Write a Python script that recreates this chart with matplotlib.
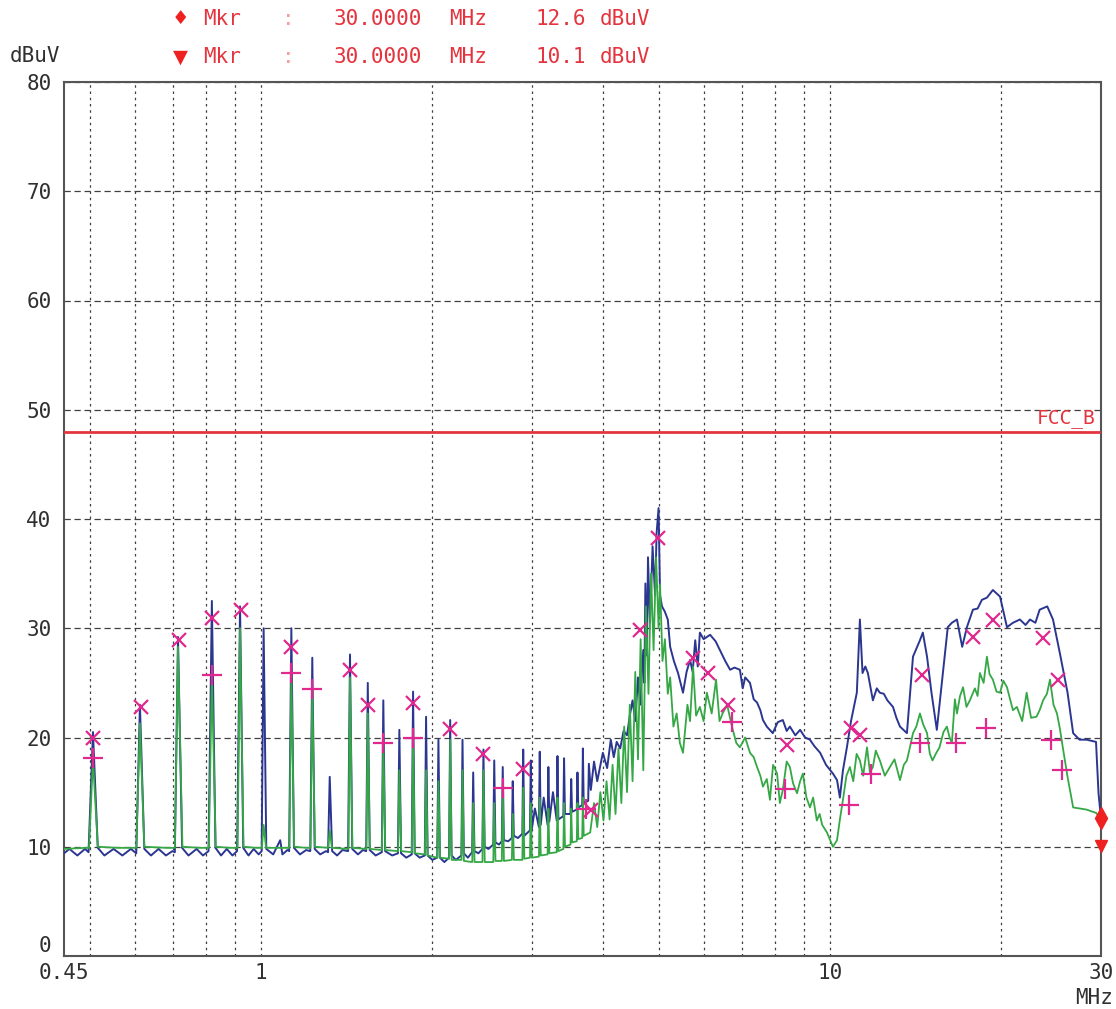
import numpy as np
import matplotlib
matplotlib.use("Agg")
import matplotlib.pyplot as plt
import matplotlib.transforms as mtransforms
from matplotlib.ticker import FixedLocator, NullFormatter

# Peak detector trace (blue), (MHz, dBuV)
blue_pts = [
    (0.45, 9.4), (0.46, 9.8), (0.475, 9.2), (0.49, 9.8), (0.497, 9.5), (0.506, 20.5), (0.516, 9.9),
    (0.53, 9.2), (0.55, 9.8), (0.57, 9.2), (0.59, 9.8), (0.603, 9.4), (0.612, 23.0), (0.623, 9.8),
    (0.64, 9.2), (0.66, 9.8), (0.68, 9.2), (0.698, 9.6), (0.705, 9.5), (0.714, 29.2), (0.726, 9.9),
    (0.745, 9.2), (0.77, 9.8), (0.79, 9.2), (0.808, 9.6), (0.819, 32.5), (0.831, 9.9), (0.85, 9.2),
    (0.87, 9.8), (0.89, 9.2), (0.907, 9.6), (0.918, 32.0), (0.93, 9.9), (0.95, 9.2), (0.97, 9.8),
    (0.99, 9.3), (1.002, 9.6), (1.01, 30.0), (1.021, 9.8), (1.05, 9.3), (1.08, 10.6), (1.09, 9.3),
    (1.112, 9.7), (1.12, 9.6), (1.13, 30.0), (1.142, 9.9), (1.17, 9.3), (1.2, 9.7), (1.22, 9.6),
    (1.23, 27.3), (1.242, 9.8), (1.27, 9.3), (1.3, 9.6), (1.311, 9.5), (1.32, 16.4), (1.333, 9.6),
    (1.36, 9.2), (1.39, 9.7), (1.422, 9.6), (1.433, 27.6), (1.446, 9.8), (1.48, 9.3), (1.51, 9.7),
    (1.53, 9.6), (1.54, 25.0), (1.552, 9.7), (1.59, 9.2), (1.63, 9.5), (1.64, 23.4), (1.652, 9.6),
    (1.7, 9.2), (1.74, 9.4), (1.75, 20.7), (1.762, 9.4), (1.8, 9.0), (1.84, 9.3), (1.85, 24.2),
    (1.862, 9.4), (1.9, 9.0), (1.94, 9.2), (1.95, 21.9), (1.962, 9.2), (2.0, 8.8), (2.04, 9.0),
    (2.05, 19.8), (2.062, 9.0), (2.1, 8.6), (2.14, 9.0), (2.15, 21.6), (2.162, 9.2), (2.2, 8.8),
    (2.25, 9.2), (2.26, 19.8), (2.272, 9.4), (2.31, 9.0), (2.35, 9.5), (2.36, 16.8), (2.372, 9.6),
    (2.41, 9.4), (2.45, 9.8), (2.46, 18.9), (2.472, 10.0), (2.51, 9.8), (2.56, 10.2), (2.57, 17.9),
    (2.582, 10.4), (2.62, 10.2), (2.65, 10.5), (2.66, 17.3), (2.672, 10.6), (2.72, 10.5), (2.76, 10.8),
    (2.77, 16.0), (2.782, 11.0), (2.83, 10.8), (2.88, 11.2), (2.89, 18.9), (2.902, 11.0), (2.97, 11.5),
    (2.98, 17.9), (2.992, 11.6), (3.03, 13.5), (3.08, 11.8), (3.09, 18.7), (3.102, 12.0), (3.14, 14.5),
    (3.19, 12.0), (3.2, 17.3), (3.212, 12.3), (3.26, 15.0), (3.31, 12.4), (3.32, 18.3), (3.332, 12.5),
    (3.4, 12.8), (3.41, 18.1), (3.422, 13.0), (3.5, 13.0), (3.51, 16.2), (3.522, 13.2), (3.59, 13.4),
    (3.6, 16.8), (3.612, 13.6), (3.67, 13.8), (3.68, 19.0), (3.692, 14.0), (3.76, 14.2), (3.77, 17.6),
    (3.8, 15.2), (3.85, 17.8), (3.9, 16.0), (3.99, 18.6), (4.06, 17.2), (4.12, 19.8), (4.17, 18.2),
    (4.22, 19.6), (4.28, 19.0), (4.34, 20.6), (4.4, 20.2), (4.45, 22.0), (4.5, 23.4), (4.55, 21.5),
    (4.6, 25.5), (4.64, 23.0), (4.7, 28.0), (4.72, 25.0), (4.74, 34.1), (4.77, 27.5), (4.79, 36.5),
    (4.83, 30.5), (4.88, 37.5), (4.93, 33.0), (4.96, 38.7), (5.0, 41.0), (5.03, 33.0), (5.07, 32.0),
    (5.13, 31.5), (5.19, 30.8), (5.24, 28.3), (5.32, 27.0), (5.41, 25.9), (5.52, 24.1), (5.6, 26.0),
    (5.68, 27.1), (5.74, 26.0), (5.8, 28.9), (5.86, 26.5), (5.91, 29.6), (6.0, 29.0), (6.16, 29.4),
    (6.3, 28.8), (6.41, 28.0), (6.55, 27.0), (6.68, 26.2), (6.8, 26.4), (6.95, 26.2), (7.03, 24.5),
    (7.1, 25.5), (7.24, 25.0), (7.35, 23.5), (7.45, 23.2), (7.55, 22.5), (7.63, 21.6), (7.75, 21.0),
    (7.94, 20.4), (8.1, 21.4), (8.27, 21.6), (8.4, 20.6), (8.51, 21.0), (8.7, 20.2), (8.87, 20.7),
    (9.05, 20.0), (9.23, 19.8), (9.4, 19.2), (9.62, 18.6), (9.85, 17.5), (10.13, 16.7), (10.3, 16.1),
    (10.42, 14.5), (10.55, 17.0), (10.72, 19.1), (10.9, 21.5), (11.16, 24.1), (11.3, 30.8),
    (11.42, 25.9), (11.55, 26.5), (11.67, 25.9), (11.91, 23.4), (12.1, 24.5), (12.25, 24.1),
    (12.45, 24.0), (12.63, 23.4), (12.92, 22.8), (13.1, 21.8), (13.29, 21.0), (13.67, 20.4),
    (14.01, 27.4), (14.41, 28.9), (14.58, 29.6), (14.83, 27.4), (15.1, 24.1), (15.43, 20.7),
    (15.78, 25.5), (16.13, 30.1), (16.4, 30.5), (16.74, 30.8), (17.1, 28.3), (17.43, 30.1),
    (17.86, 31.7), (18.2, 31.8), (18.52, 32.6), (18.9, 32.8), (19.36, 33.5), (19.93, 32.9),
    (20.5, 30.1), (21.0, 30.5), (21.6, 30.8), (22.1, 30.3), (22.5, 30.8), (23.0, 30.5), (23.4, 31.7),
    (24.13, 32.0), (24.7, 30.8), (25.4, 27.7), (26.2, 24.1), (26.8, 20.4), (27.5, 19.8), (28.3, 19.8),
    (29.4, 19.6), (29.7, 14.9), (30.0, 12.6),
]

# Average detector trace (green)
green_pts = [
    (0.45, 9.8), (0.49, 9.9), (0.498, 9.9), (0.506, 18.0), (0.516, 10.0), (0.56, 9.9), (0.603, 9.9),
    (0.612, 21.3), (0.623, 10.0), (0.68, 9.9), (0.705, 9.9), (0.714, 28.3), (0.727, 10.0), (0.78, 9.9),
    (0.809, 9.9), (0.819, 25.7), (0.832, 10.0), (0.88, 9.9), (0.909, 9.9), (0.918, 30.0), (0.931, 10.0),
    (0.98, 9.9), (1.003, 9.9), (1.01, 12.0), (1.02, 9.9), (1.1, 9.9), (1.121, 9.9), (1.13, 25.7),
    (1.143, 10.0), (1.2, 9.9), (1.221, 9.9), (1.23, 24.4), (1.243, 10.0), (1.312, 9.9), (1.32, 11.5),
    (1.332, 9.9), (1.424, 9.8), (1.433, 25.5), (1.447, 9.9), (1.531, 9.8), (1.54, 22.2), (1.553, 9.8),
    (1.631, 9.7), (1.64, 19.5), (1.653, 9.7), (1.741, 9.6), (1.75, 17.0), (1.763, 9.6), (1.841, 9.5),
    (1.85, 20.0), (1.863, 9.4), (1.941, 9.3), (1.95, 17.0), (1.963, 9.2), (2.041, 9.0), (2.05, 16.0),
    (2.063, 9.0), (2.141, 8.9), (2.15, 19.8), (2.163, 8.8), (2.251, 8.8), (2.26, 17.0), (2.273, 8.7),
    (2.351, 8.6), (2.36, 14.0), (2.373, 8.6), (2.45, 8.6), (2.46, 17.0), (2.473, 8.6), (2.56, 8.6),
    (2.57, 14.0), (2.583, 8.7), (2.65, 8.7), (2.66, 15.4), (2.673, 8.7), (2.76, 8.8), (2.77, 13.0),
    (2.783, 8.8), (2.88, 8.8), (2.89, 15.4), (2.903, 8.9), (2.97, 9.0), (2.98, 14.0), (2.993, 9.0),
    (3.08, 9.1), (3.09, 14.5), (3.103, 9.2), (3.19, 9.3), (3.2, 13.5), (3.213, 9.4), (3.31, 9.5),
    (3.32, 14.5), (3.333, 9.6), (3.4, 9.8), (3.41, 14.0), (3.423, 10.0), (3.5, 10.2), (3.51, 13.5),
    (3.523, 10.4), (3.59, 10.5), (3.6, 14.0), (3.613, 10.7), (3.67, 10.8), (3.68, 14.5), (3.693, 11.0),
    (3.79, 11.3), (3.85, 14.0), (3.9, 11.8), (3.95, 15.0), (4.0, 12.4), (4.05, 16.0), (4.1, 12.5),
    (4.15, 17.5), (4.2, 13.0), (4.25, 19.0), (4.3, 14.0), (4.35, 21.0), (4.4, 15.0), (4.45, 23.0),
    (4.5, 16.0), (4.55, 26.0), (4.6, 18.0), (4.65, 29.0), (4.7, 17.0), (4.75, 32.0), (4.8, 24.0),
    (4.85, 35.0), (4.9, 28.0), (4.95, 36.5), (5.0, 30.0), (5.03, 34.0), (5.08, 27.0), (5.13, 29.0),
    (5.19, 24.0), (5.24, 25.5), (5.31, 21.0), (5.38, 22.2), (5.45, 19.5), (5.52, 18.6), (5.62, 23.0),
    (5.68, 21.5), (5.75, 26.5), (5.82, 22.0), (5.91, 22.8), (6.0, 21.5), (6.08, 24.1), (6.2, 22.2),
    (6.31, 25.3), (6.4, 21.5), (6.48, 22.2), (6.6, 23.0), (6.73, 21.0), (6.85, 19.5), (6.95, 19.1),
    (7.1, 20.0), (7.24, 18.6), (7.35, 18.2), (7.45, 17.3), (7.55, 16.5), (7.63, 15.5), (7.75, 16.2),
    (7.85, 14.3), (7.95, 17.5), (8.08, 16.7), (8.17, 14.0), (8.27, 15.2), (8.4, 17.8), (8.51, 17.3),
    (8.62, 15.8), (8.76, 14.9), (8.87, 16.0), (8.97, 16.7), (9.1, 14.5), (9.23, 13.6), (9.35, 14.5),
    (9.49, 12.4), (9.6, 13.0), (9.7, 12.0), (9.89, 11.3), (10.13, 10.0), (10.3, 10.6), (10.42, 12.5),
    (10.55, 14.3), (10.7, 16.5), (10.85, 17.3), (11.0, 16.0), (11.15, 18.5), (11.3, 17.9),
    (11.45, 16.5), (11.63, 19.1), (11.77, 16.8), (11.91, 17.3), (12.05, 18.8), (12.25, 17.9),
    (12.5, 16.5), (12.76, 17.3), (13.0, 18.0), (13.15, 17.0), (13.29, 16.1), (13.5, 17.5),
    (13.67, 17.9), (13.85, 19.2), (14.01, 20.4), (14.2, 21.0), (14.41, 22.2), (14.6, 21.2),
    (14.83, 20.4), (15.0, 18.5), (15.16, 17.9), (15.4, 18.6), (15.6, 19.1), (15.85, 20.5),
    (16.07, 21.0), (16.25, 20.0), (16.4, 19.5), (16.6, 23.5), (16.74, 22.2), (16.95, 23.8),
    (17.16, 24.6), (17.4, 22.8), (17.64, 23.4), (18.0, 24.5), (18.2, 23.8), (18.37, 25.9),
    (18.65, 25.0), (18.9, 27.4), (19.1, 25.8), (19.36, 25.3), (19.65, 24.2), (19.93, 24.1),
    (20.2, 25.2), (20.5, 24.6), (21.0, 22.5), (21.34, 22.8), (21.8, 21.5), (22.2, 24.1), (22.6, 21.8),
    (23.1, 21.9), (23.4, 22.5), (23.73, 23.4), (24.1, 24.0), (24.4, 25.3), (24.75, 23.0), (25.1, 22.2),
    (25.4, 20.8), (25.7, 19.1), (26.2, 16.4), (26.8, 13.6), (28.3, 13.4), (29.4, 13.1), (30.0, 12.6),
]

# final measurement points: quasi-peak (x) and average (+)
qp_pts = [
    (0.506, 20.0), (0.614, 22.8), (0.716, 28.9), (0.819, 30.9), (0.920, 31.7), (1.13, 28.3),
    (1.433, 26.2), (1.54, 23.0), (1.85, 23.2), (2.15, 20.8), (2.46, 18.5), (2.89, 17.1), (3.80, 13.4),
    (4.64, 29.8), (4.98, 38.3), (5.74, 27.3), (6.10, 25.9), (6.62, 23.0), (8.40, 19.3), (10.9, 20.9),
    (11.3, 20.2), (14.55, 25.7), (17.86, 29.2), (19.4, 30.8), (23.7, 29.1), (25.2, 25.3),
]
av_pts = [
    (0.506, 18.1), (0.819, 25.7), (1.13, 25.9), (1.23, 24.4), (1.64, 19.5), (1.85, 20.0),
    (2.66, 15.4), (3.72, 13.5), (6.74, 21.4), (8.35, 15.3), (10.8, 13.8), (11.8, 16.7),
    (14.4, 19.5), (16.7, 19.5), (18.8, 20.9), (24.5, 19.8), (25.6, 17.0),
]

limit_level = 48
limit_name = "FCC_B"
mkr_freq = [30.0, 30.0]
mkr_level = [12.6, 10.1]
mkr_symbol = ["\u2666", "\u25bc"]

x_ticks = [0.45, 1, 10, 30]
x_tick_labels = ["0.45", "1", "10", "30"]
grid_freqs = [0.5, 0.6, 0.7, 0.8, 0.9, 1, 2, 3, 4, 5, 6, 7, 8, 9, 10, 20]
y_ticks = list(range(0, 81, 10))

blue_c = "#2b3690"
green_c = "#35a845"
mark_c = "#e0288e"
red_c = "#e4343e"
text_c = "#303030"
mono = ["DejaVu Sans Mono", "DejaVu Sans"]

W, H = 1116, 1009
fig = plt.figure(figsize=(W / 100, H / 100), dpi=100)
ax = fig.add_axes([64 / W, 53 / H, 1037 / W, 874 / H])

bf, bl = np.array(blue_pts).T
gf, gl = np.array(green_pts).T
ax.plot(bf, bl, color=blue_c, lw=1.4, zorder=3)
ax.plot(gf, gl, color=green_c, lw=1.3, zorder=4)

ax.axhline(limit_level, color=red_c, lw=2, zorder=5)
ax.text(0.995, limit_level + 0.3, limit_name, color=red_c, fontsize=14, family=mono,
        ha="right", va="bottom",
        transform=mtransforms.blended_transform_factory(ax.transAxes, ax.transData))

qf, ql = np.array(qp_pts).T
af, al = np.array(av_pts).T
ax.plot(qf, ql, "x", color=mark_c, ms=10, mew=1.6, zorder=6)
ax.plot(af, al, "+", color=mark_c, ms=15, mew=1.6, zorder=6)

# markers at the end of the sweep
ax.plot(mkr_freq[0], mkr_level[0], "d", color="#ee2020", ms=11, clip_on=False, zorder=7)
ax.plot(mkr_freq[1], mkr_level[1], "v", color="#ee2020", ms=8, clip_on=False, zorder=7)

ax.set_xscale("log")
ax.set_xlim(0.45, 30)
ax.set_ylim(0, 80)
ax.set_xticks(x_ticks)
ax.set_xticklabels(x_tick_labels)
ax.xaxis.set_minor_locator(FixedLocator(grid_freqs))
ax.xaxis.set_minor_formatter(NullFormatter())
ax.xaxis.remove_overlapping_locs = False
ax.set_yticks(y_ticks)

ax.grid(True, which="minor", axis="x", ls=(0, (2, 3)), color="#404040", lw=0.9)
ax.grid(True, which="major", axis="y", ls=(0, (5, 3)), color="#404040", lw=0.9)
ax.set_axisbelow(True)

ax.tick_params(which="both", length=0)
ax.tick_params(axis="y", pad=9, labelsize=15, labelcolor=text_c)
ax.tick_params(axis="x", pad=5, labelsize=15, labelcolor=text_c)
for lab in ax.get_xticklabels() + ax.get_yticklabels():
    lab.set_family(mono)
ax.get_yticklabels()[0].set_va("bottom")
for sp in ax.spines.values():
    sp.set_color("#555555")
    sp.set_linewidth(1.5)

fig.text(10 / W, 1 - 56 / H, "dBuV", fontsize=15, family=mono, color=text_c, ha="left", va="center")
fig.text(1113 / W, 1 - 998 / H, "MHz", fontsize=15, family=mono, color=text_c, ha="right", va="center")

# header lines with marker readouts
for i, yy in enumerate([19, 57]):
    ty = 1 - yy / H
    fig.text(180 / W, ty, mkr_symbol[i], fontsize=14, family=["DejaVu Sans"], color="#ee2020",
             ha="center", va="center")
    fig.text(203 / W, ty, "Mkr", fontsize=15, family=mono, color=red_c, va="center")
    fig.text(282 / W, ty, ":", fontsize=15, family=mono, color="#f0a0a0", va="center")
    fig.text(334 / W, ty, f"{mkr_freq[i]:.4f}", fontsize=15, family=mono, color=red_c, va="center")
    fig.text(449 / W, ty, "MHz", fontsize=15, family=mono, color=red_c, va="center")
    fig.text(536 / W, ty, f"{mkr_level[i]:.1f}", fontsize=15, family=mono, color=red_c, va="center")
    fig.text(600 / W, ty, "dBuV", fontsize=15, family=mono, color=red_c, va="center")

fig.savefig("out.png", dpi=100)
